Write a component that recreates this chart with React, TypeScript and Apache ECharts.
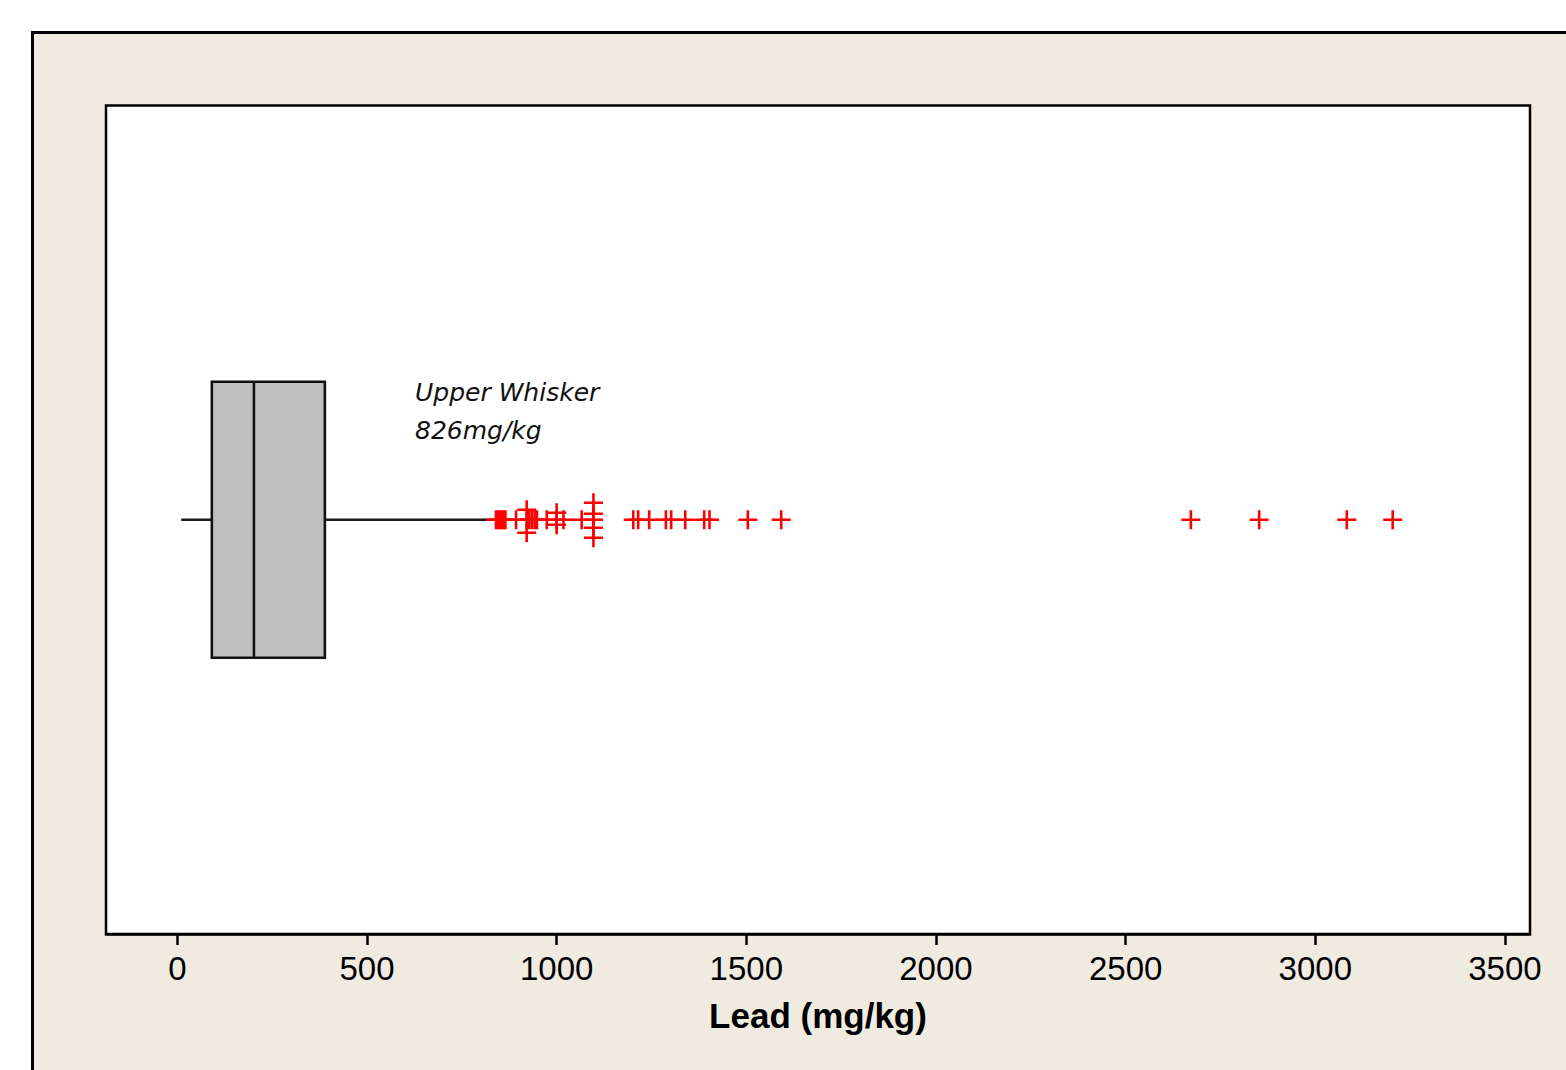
import React, { useEffect, useRef } from 'react';
import * as echarts from 'echarts';

// Tick labels of the value axis
const tickValues = [0, 500, 1000, 1500, 2000, 2500, 3000, 3500];
// Box statistics: lower whisker, Q1, median, Q3, upper whisker (mg/kg)
const boxStats = [10, 91, 202, 389, 826];
// Outliers (mg/kg) and their vertical stacking offset (duplicates drawn stacked)
const outlierValues = [
  840, 845, 850, 855, 860, 865, 893, 921, 921, 921, 928, 935, 942, 948, 974,
  1000, 1000, 1000, 1018, 1066, 1097, 1097, 1097, 1097, 1097,
  1202, 1215, 1244, 1288, 1302, 1339, 1389, 1403, 1504, 1592,
  2672, 2852, 3083, 3204,
];
const outlierStack = [
  0, 0, 0, 0, 0, 0, 0, 0, 10, -13, 0, 0, 0, 0, 0,
  0, 7, -5, 0, 0, 0, 17, 6, -8, -18,
  0, 0, 0, 0, 0, 0, 0, 0, 0, 0,
  0, 0, 0, 0,
];
const axisTitle = 'Lead (mg/kg)';
const annotationLines = ['Upper Whisker', '826mg/kg'];

const PLUS =
  'path://M-1.3,-9.5 L1.3,-9.5 L1.3,-1.3 L9.5,-1.3 L9.5,1.3 L1.3,1.3 L1.3,9.5 L-1.3,9.5 L-1.3,1.3 L-9.5,1.3 L-9.5,-1.3 L-1.3,-1.3 Z';

export default function App() {
  const ref = useRef<HTMLDivElement>(null);

  useEffect(() => {
    if (!ref.current) return;
    const chart = echarts.init(ref.current, null, { renderer: 'svg' });
    const boxHalf = 138;
    chart.setOption({
      animation: false,
      backgroundColor: 'transparent',
      grid: {
        left: 106,
        top: 105.5,
        width: 1424,
        height: 828.5,
        show: true,
        backgroundColor: '#ffffff',
        borderColor: '#000000',
        borderWidth: 2.5,
      },
      xAxis: {
        type: 'value',
        min: -188,
        max: 3566,
        splitLine: { show: false },
        axisLine: { show: true, onZero: false, lineStyle: { color: '#000', width: 2.5 } },
        axisTick: {
          show: true,
          length: 11,
          lineStyle: { color: '#000', width: 2.5 },
          customValues: tickValues,
        },
        axisLabel: {
          customValues: tickValues,
          formatter: (v: number) => String(v),
          margin: 18,
          fontSize: 33,
          fontFamily: '"Liberation Sans", Arial, sans-serif',
          color: '#000',
        },
        name: axisTitle,
        nameLocation: 'middle',
        nameGap: 64,
        nameTextStyle: {
          fontSize: 35,
          fontWeight: 'bold',
          fontFamily: '"Liberation Sans", Arial, sans-serif',
          color: '#000',
        },
      },
      yAxis: { type: 'value', min: -414.25, max: 414.25, show: false },
      graphic: [
        {
          type: 'text',
          x: 415,
          y: 373,
          style: {
            text: annotationLines.join('\n'),
            font: 'italic 25px "DejaVu Sans", Verdana, sans-serif',
            fill: '#111',
            lineHeight: 38,
            verticalAlign: 'top',
          },
        },
      ],
      series: [
        {
          type: 'custom',
          encode: { x: [0, 1, 2, 3, 4], y: 5 },
          data: [[...boxStats, 0]],
          z: 2,
          renderItem: (params: any, api: any) => {
            const low = api.coord([api.value(0), 0]);
            const q1 = api.coord([api.value(1), 0]);
            const med = api.coord([api.value(2), 0]);
            const q3 = api.coord([api.value(3), 0]);
            const high = api.coord([api.value(4), 0]);
            const top = api.coord([0, boxHalf])[1];
            const bottom = api.coord([0, -boxHalf])[1];
            const lineStyle = { stroke: '#1a1a1a', lineWidth: 2.5 };
            return {
              type: 'group',
              children: [
                { type: 'line', shape: { x1: low[0], y1: low[1], x2: q1[0], y2: q1[1] }, style: lineStyle },
                { type: 'line', shape: { x1: q3[0], y1: q3[1], x2: high[0], y2: high[1] }, style: lineStyle },
                {
                  type: 'rect',
                  shape: { x: q1[0], y: top, width: q3[0] - q1[0], height: bottom - top },
                  style: { fill: '#bfbfbf', stroke: '#111', lineWidth: 2.6 },
                },
                { type: 'line', shape: { x1: med[0], y1: top, x2: med[0], y2: bottom }, style: { stroke: '#111', lineWidth: 2.6 } },
              ],
            };
          },
        },
        {
          type: 'scatter',
          z: 3,
          symbol: PLUS,
          symbolSize: 19,
          itemStyle: { color: '#ff0000', opacity: 1 },
          data: outlierValues.map((v, i) => [v, outlierStack[i]]),
        },
      ],
    });
    return () => chart.dispose();
  }, []);

  return (
    <div
      style={{
        position: 'fixed',
        left: 0,
        top: 0,
        width: 1566,
        height: 1070,
        background: '#ffffff',
        overflow: 'hidden',
      }}
    >
      <div
        style={{
          position: 'absolute',
          left: 31,
          top: 31,
          width: 1600,
          height: 1100,
          background: '#efebe1',
          borderLeft: '3px solid #000',
          borderTop: '3px solid #000',
        }}
      />
      <div ref={ref} style={{ position: 'absolute', left: 0, top: 0, width: 1566, height: 1070 }} />
    </div>
  );
}
